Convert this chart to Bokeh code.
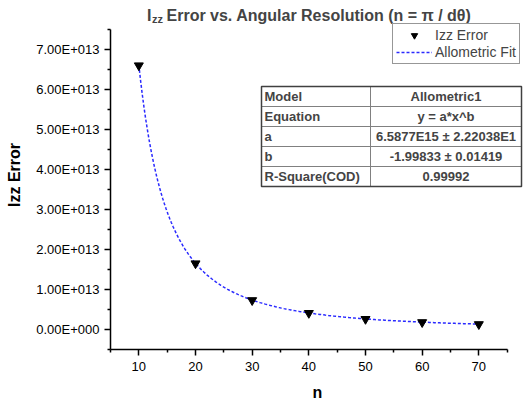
from bokeh.plotting import figure
from bokeh.models import (Range1d, FixedTicker, CustomJSTickFormatter, Label, Legend,
                          LegendItem)
from bokeh.embed import file_html
from bokeh.resources import INLINE
import numpy as np

# ---- data ----
n_values = [10, 20, 30, 40, 50, 60, 70]
izz_error = [6.60e13, 1.65e13, 7.3e12, 4.1e12, 2.6e12, 1.8e12, 1.3e12]
fit_a = 6.5877e15
fit_b = -1.99833
x_ticks = [10, 20, 30, 40, 50, 60, 70]
x_minor = [5, 15, 25, 35, 45, 55, 65, 75]
y_ticks = [0, 1e13, 2e13, 3e13, 4e13, 5e13, 6e13, 7e13]
y_minor = [-0.5e13, 0.5e13, 1.5e13, 2.5e13, 3.5e13, 4.5e13, 5.5e13, 6.5e13, 7.5e13]
table_rows = [("Model", "Allometric1"),
              ("Equation", "y = a*x^b"),
              ("a", "6.5877E15 \u00b1 2.22038E1"),
              ("b", "-1.99833 \u00b1 0.01419"),
              ("R-Square(COD)", "0.99992")]

FONT = "Liberation Sans"

# layout geometry (pixels)
FL, FR, FT, FB = 110, 524, 0, 349
XS = 340 / 60.0          # px per x unit
YS = 40 / 1e13           # px per y unit
x0 = 5.0
y0 = -0.5e13
x1 = x0 + (FR - FL) / XS
y1 = y0 + (FB - FT) / YS

def dx(px):
    return x0 + (px - FL) / XS

def dy(py):
    return y0 + (FB - py) / YS

p = figure(width=525, height=406, output_backend="svg", toolbar_location=None,
           x_range=Range1d(x0, x1), y_range=Range1d(y0, y1),
           min_border_left=FL, min_border_right=525 - FR,
           min_border_top=FT, min_border_bottom=406 - FB)
p.title = None
p.outline_line_color = None
p.xgrid.visible = False
p.ygrid.visible = False
p.background_fill_color = "white"
p.border_fill_color = "white"

for ax in (p.xaxis[0], p.yaxis[0]):
    ax.axis_line_color = "black"
    ax.axis_line_width = 1.5
    ax.major_tick_line_color = "black"
    ax.major_tick_line_width = 1.5
    ax.minor_tick_line_color = "black"
    ax.minor_tick_line_width = 1.5
    ax.major_tick_in = 0
    ax.major_tick_out = 6
    ax.minor_tick_in = 0
    ax.minor_tick_out = 3
    ax.major_label_text_font = FONT
    ax.major_label_text_font_size = "13px"
    ax.major_label_text_color = "black"
    ax.axis_label_text_font = FONT
    ax.axis_label_text_font_size = "16px"
    ax.axis_label_text_font_style = "bold"
    ax.axis_label_text_color = "black"

p.xaxis[0].bounds = (5, 75)
p.xaxis[0].ticker = FixedTicker(ticks=x_ticks, minor_ticks=x_minor)
p.xaxis[0].axis_label = "n"
p.xaxis[0].major_label_standoff = 6
p.xaxis[0].axis_label_standoff = 10

p.yaxis[0].bounds = (-0.5e13, 7.5e13)
p.yaxis[0].ticker = FixedTicker(ticks=y_ticks, minor_ticks=y_minor)
p.yaxis[0].formatter = CustomJSTickFormatter(code="""
    if (tick == 0) { return "0.00E+000"; }
    const e = Math.floor(Math.log10(Math.abs(tick)) + 1e-9);
    const m = tick / Math.pow(10, e);
    return m.toFixed(2) + "E+" + String(e).padStart(3, "0");
""")
p.yaxis[0].axis_label = "Izz Error"
p.yaxis[0].major_label_standoff = 5
p.yaxis[0].axis_label_standoff = 10

# fit curve from the fitted parameters
xf = np.linspace(min(n_values), max(n_values), 200)
yf = fit_a * xf ** fit_b
fit_r = p.line(xf, yf, line_color="#2a2aff", line_width=1.5, line_dash="3 2")
pts_r = p.scatter(n_values, izz_error, marker="inverted_triangle", size=9,
                  fill_color="black", line_color="black")

legend = Legend(items=[LegendItem(label="Izz Error", renderers=[pts_r]),
                       LegendItem(label="Allometric Fit", renderers=[fit_r])],
                location=(392 - FL, FB - 64), orientation="vertical",
                label_text_font=FONT, label_text_font_size="14px",
                glyph_width=36, glyph_height=16, label_height=16,
                label_standoff=3, spacing=1, padding=3, margin=0,
                border_line_color="#303030", border_line_width=1,
                background_fill_color="white", background_fill_alpha=1)
p.add_layout(legend)

# title with subscript
tb = 14.5
p.add_layout(Label(x=dx(146.5), y=dy(tb), text="I", text_font=FONT,
                   text_font_size="16px", text_font_style="bold",
                   text_baseline="alphabetic"))
p.add_layout(Label(x=dx(151.5), y=dy(tb + 3.5), text="zz", text_font=FONT,
                   text_font_size="11px", text_font_style="bold",
                   text_baseline="alphabetic"))
p.add_layout(Label(x=dx(166), y=dy(tb), text="Error vs. Angular Resolution (n = \u03c0 / d\u03b8)",
                   text_font=FONT, text_font_size="16px", text_font_style="bold",
                   text_baseline="alphabetic"))

# fit results table
tl, tr, tt, row_h, col_x = 261, 521, 86, 20, 370
tbm = tt + row_h * len(table_rows)
p.quad(left=[dx(tl)], right=[dx(tr)], top=[dy(tt)], bottom=[dy(tbm)],
       fill_color="white", line_color=None)
sx0, sy0, sx1, sy1 = [], [], [], []
for i in range(1, len(table_rows)):
    yy = tt + row_h * i
    sx0.append(dx(tl)); sx1.append(dx(tr)); sy0.append(dy(yy)); sy1.append(dy(yy))
sx0.append(dx(col_x)); sx1.append(dx(col_x)); sy0.append(dy(tt)); sy1.append(dy(tbm))
p.segment(x0=sx0, y0=sy0, x1=sx1, y1=sy1, line_color="#808080", line_width=1)
p.quad(left=[dx(tl)], right=[dx(tr)], top=[dy(tt)], bottom=[dy(tbm)],
       fill_color=None, line_color="#404040", line_width=1.5)
for i, (k, v) in enumerate(table_rows):
    yc = tt + row_h * i + row_h / 2
    p.add_layout(Label(x=dx(tl + 3), y=dy(yc), text=k, text_font=FONT,
                       text_font_size="13px", text_font_style="bold",
                       text_baseline="middle", text_align="left"))
    p.add_layout(Label(x=dx((col_x + tr) / 2), y=dy(yc), text=v, text_font=FONT,
                       text_font_size="13px", text_font_style="bold",
                       text_baseline="middle", text_align="center"))

open("out.html", "w").write(file_html(p, INLINE))
